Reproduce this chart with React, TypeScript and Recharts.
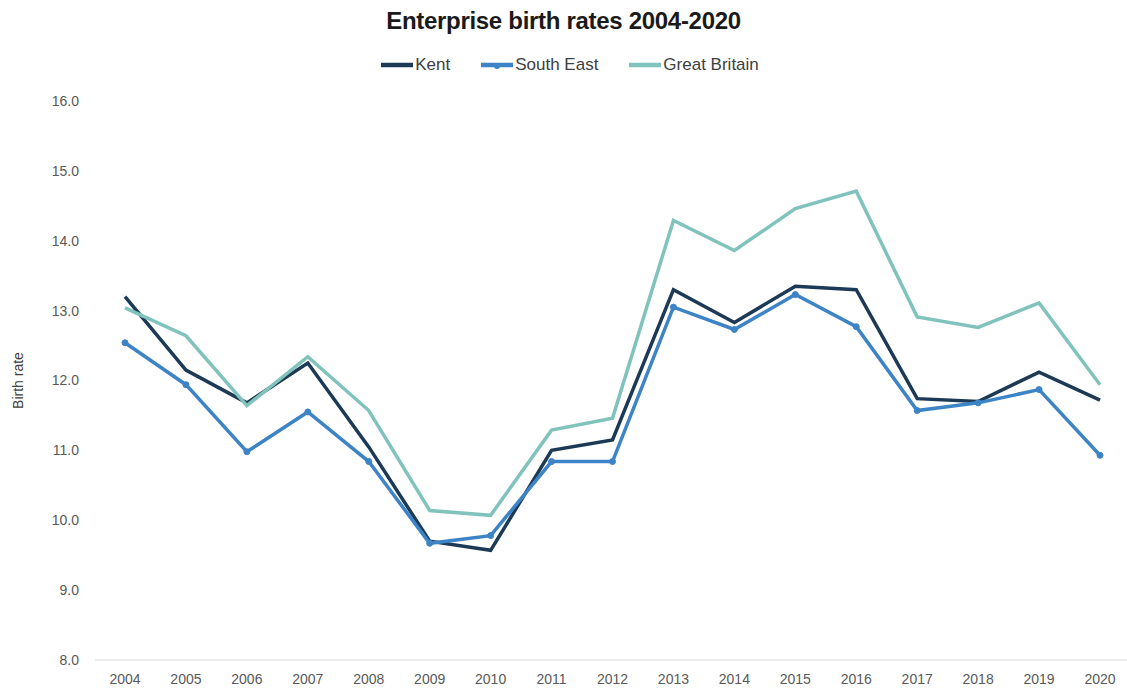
import { LineChart, Line, XAxis, YAxis, Legend } from "recharts";

const years = ["2004", "2005", "2006", "2007", "2008", "2009", "2010", "2011", "2012", "2013", "2014", "2015", "2016", "2017", "2018", "2019", "2020"];
const kent = [13.2, 12.15, 11.68, 12.25, 11.05, 9.7, 9.57, 11.0, 11.15, 13.3, 12.83, 13.35, 13.3, 11.74, 11.7, 12.12, 11.72];
const southEast = [12.54, 11.94, 10.98, 11.55, 10.84, 9.67, 9.78, 10.84, 10.84, 13.05, 12.73, 13.23, 12.77, 11.57, 11.68, 11.87, 10.93];
const greatBritain = [13.04, 12.64, 11.64, 12.34, 11.57, 10.14, 10.07, 11.29, 11.46, 14.29, 13.86, 14.46, 14.71, 12.91, 12.76, 13.11, 11.94];
const yTicks = [8, 9, 10, 11, 12, 13, 14, 15, 16];

const data = years.map((year, i) => ({
  year,
  kent: kent[i],
  southEast: southEast[i],
  greatBritain: greatBritain[i],
}));

const series = [
  { key: "kent", name: "Kent", color: "#1c3a56", dot: false },
  { key: "southEast", name: "South East", color: "#3d84c6", dot: true },
  { key: "greatBritain", name: "Great Britain", color: "#80c3bd", dot: false },
];

const font = "'Liberation Sans', Arial, sans-serif";

function LegendContent() {
  return (
    <div style={{ display: "flex", justifyContent: "center", gap: 30, fontFamily: font, fontSize: 17, color: "#404040", paddingLeft: 12 }}>
      {series.map((s) => (
        <div key={s.key} style={{ display: "flex", alignItems: "center" }}>
          <svg width={34} height={10} style={{ marginRight: 1 }}>
            <line x1={1} y1={5} x2={33} y2={5} stroke={s.color} strokeWidth={4.5} />
            {s.dot && <circle cx={17} cy={6} r={3} fill={s.color} />}
          </svg>
          <span>{s.name}</span>
        </div>
      ))}
    </div>
  );
}

export default function App() {
  return (
    <div style={{ position: "absolute", left: 0, top: 0, width: 1127, height: 688, background: "#fff" }}>
      <div
        style={{
          position: "absolute",
          top: 7,
          left: 0,
          width: 1127,
          textAlign: "center",
          fontFamily: font,
          fontSize: 24,
          fontWeight: "bold",
          color: "#1a1a1a",
          letterSpacing: -0.3,
        }}
      >
        Enterprise birth rates 2004-2020
      </div>
      <LineChart width={1127} height={688} data={data} margin={{ top: 81, right: 0, left: 0, bottom: 0 }}>
        <XAxis
          dataKey="year"
          axisLine={{ stroke: "#d9d9d9" }}
          tickLine={false}
          tick={{ fill: "#595959", fontSize: 14, fontFamily: font }}
          height={28}
          tickMargin={8}
          padding={{ left: 30, right: 27 }}
        />
        <YAxis
          domain={[8, 16]}
          ticks={yTicks}
          width={95}
          axisLine={false}
          tickLine={false}
          tickFormatter={(v: number) => v.toFixed(1)}
          tick={{ fill: "#595959", fontSize: 14, fontFamily: font }}
          tickMargin={10}
          label={{ value: "Birth rate", angle: -90, position: "insideLeft", offset: 18, style: { fill: "#404040", fontSize: 14, fontFamily: font, textAnchor: "middle" } }}
        />
        <Legend verticalAlign="top" content={<LegendContent />} wrapperStyle={{ top: 55, left: 0, width: 1127 }} />
        {series.map((s) => (
          <Line
            key={s.key}
            type="linear"
            dataKey={s.key}
            name={s.name}
            stroke={s.color}
            strokeWidth={3.5}
            dot={s.dot ? { r: 3, fill: s.color, stroke: s.color, strokeWidth: 1 } : false}
            activeDot={false}
            isAnimationActive={false}
          />
        ))}
      </LineChart>
    </div>
  );
}
